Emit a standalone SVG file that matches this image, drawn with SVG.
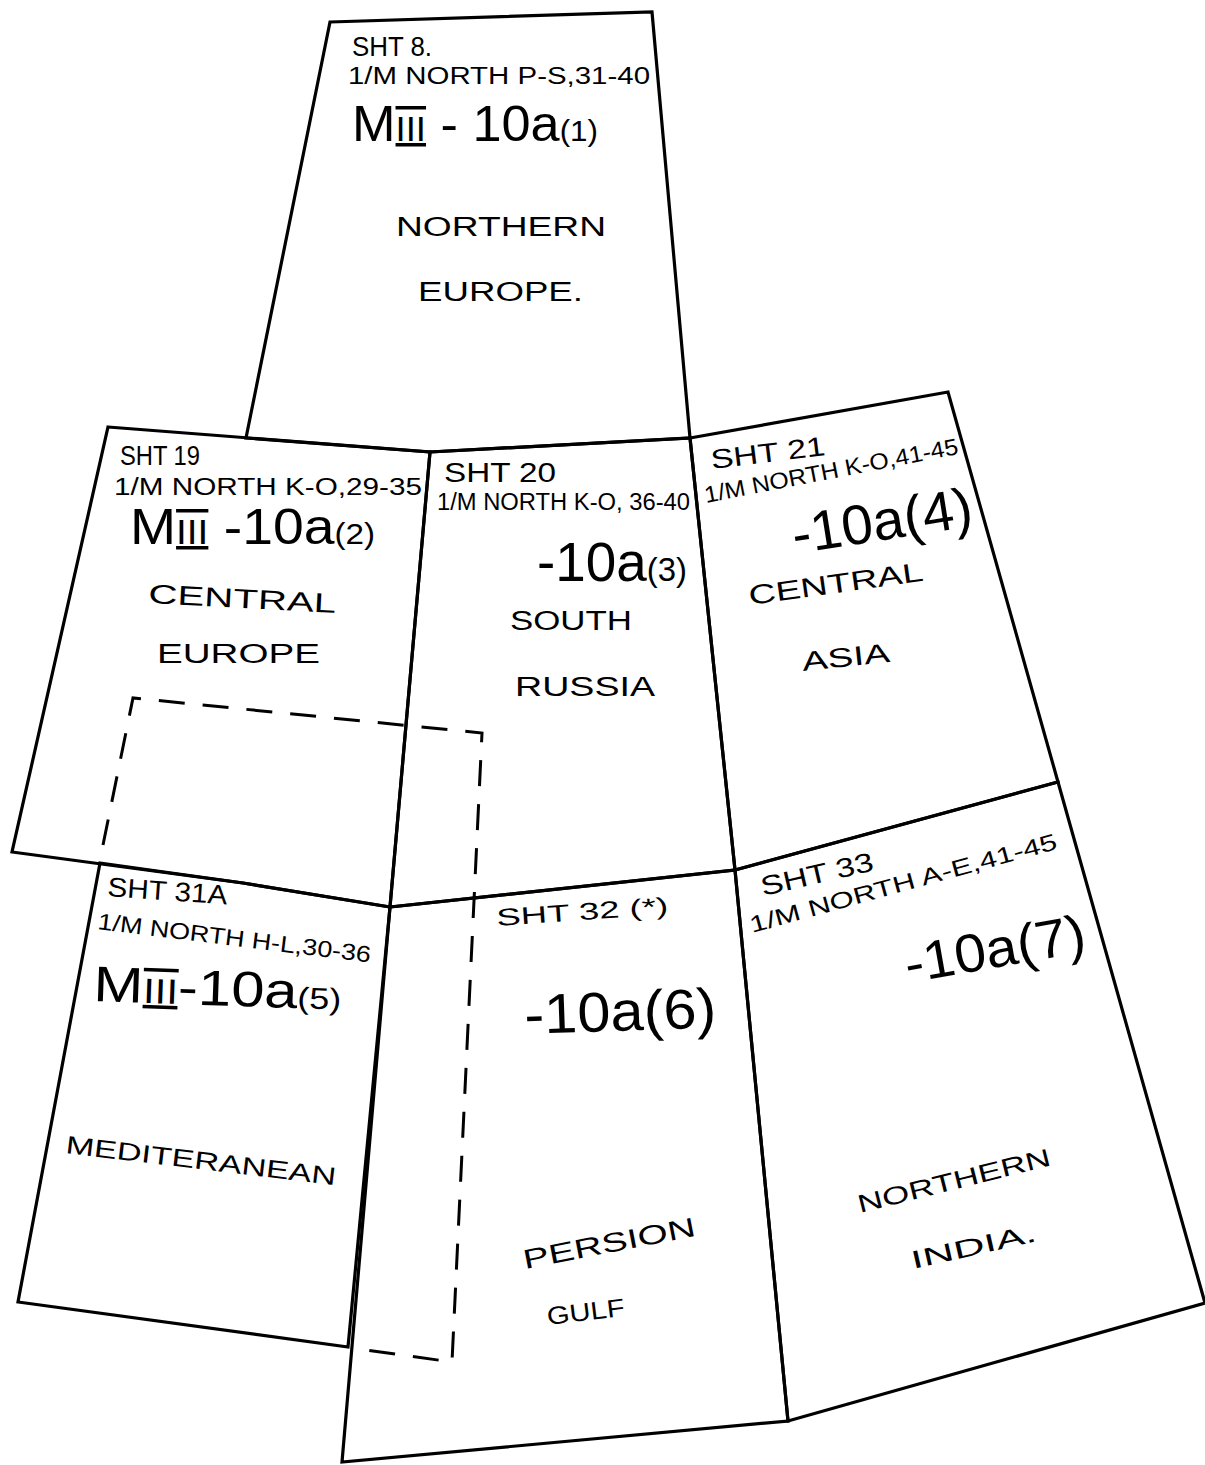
<svg xmlns="http://www.w3.org/2000/svg" width="1205" height="1465" viewBox="0 0 1205 1465">
<style>
.sheet{fill:none;stroke:#000;stroke-width:3.2;stroke-linejoin:miter}
.dash{fill:none;stroke:#000;stroke-width:3;stroke-dasharray:26 18}
text{font-family:"Liberation Sans","DejaVu Sans",sans-serif;fill:#000}
.hd{font-size:27px}
.sub{font-size:23px}
.big{font-size:50px}
.nm{font-size:27px}
.rn{text-decoration:underline overline;font-size:0.7em}
.sm{font-size:0.6em}
</style>
<rect width="1205" height="1465" fill="#fff"/>
<g id="sht8">
<polygon class="sheet" points="330,22 652,12 690,438 430,452 246,438"/>
<text class="hd" x="352" y="56" textLength="80" lengthAdjust="spacingAndGlyphs">SHT 8.</text>
<text class="sub" x="348" y="84" textLength="302" lengthAdjust="spacingAndGlyphs">1/M NORTH P-S,31-40</text>
<text class="big" x="352" y="141" textLength="246" lengthAdjust="spacingAndGlyphs">M<tspan class="rn">III</tspan> - 10a<tspan class="sm">(1)</tspan></text>
<text class="nm" x="396" y="236" textLength="210" lengthAdjust="spacingAndGlyphs">NORTHERN</text>
<text class="nm" x="418" y="301" textLength="165" lengthAdjust="spacingAndGlyphs">EUROPE.</text>
</g>
<g id="sht19">
<polygon class="sheet" points="108,427 430,452 390,907 243,883 12,852"/>
<text class="hd" x="120" y="465" textLength="80" lengthAdjust="spacingAndGlyphs">SHT 19</text>
<text class="sub" x="114" y="495" textLength="308" lengthAdjust="spacingAndGlyphs">1/M NORTH  K-O,29-35</text>
<text class="big" x="130" y="544" textLength="245" lengthAdjust="spacingAndGlyphs">M<tspan class="rn">III</tspan> -10a<tspan class="sm">(2)</tspan></text>
<text class="nm" x="148" y="603" textLength="188" lengthAdjust="spacingAndGlyphs" transform="rotate(3 148 603)">CENTRAL</text>
<text class="nm" x="157" y="663" textLength="163" lengthAdjust="spacingAndGlyphs">EUROPE</text>
</g>
<g id="sht20">
<polygon class="sheet" points="430,452 690,438 735,870 390,907"/>
<text class="hd" x="444" y="482" textLength="112" lengthAdjust="spacingAndGlyphs">SHT 20</text>
<text class="sub" x="437" y="510" textLength="253" lengthAdjust="spacingAndGlyphs">1/M NORTH K-O, 36-40</text>
<text class="big" x="537" y="581" textLength="150" lengthAdjust="spacingAndGlyphs" style="font-size:56px">-10a<tspan class="sm">(3)</tspan></text>
<text class="nm" x="510" y="630" textLength="122" lengthAdjust="spacingAndGlyphs">SOUTH</text>
<text class="nm" x="515" y="696" textLength="140" lengthAdjust="spacingAndGlyphs">RUSSIA</text>
</g>
<g id="sht21">
<polygon class="sheet" points="690,438 948,392 1058,782 735,870"/>
<text class="hd" x="712" y="469" textLength="115" lengthAdjust="spacingAndGlyphs" transform="rotate(-7 712 469)">SHT 21</text>
<text class="sub" x="706" y="503" textLength="258" lengthAdjust="spacingAndGlyphs" transform="rotate(-11 706 503)">1/M NORTH K-O,41-45</text>
<text class="big" x="795" y="554" textLength="182" lengthAdjust="spacingAndGlyphs" style="font-size:56px" transform="rotate(-9 795 554)">-10a(4)</text>
<text class="nm" x="750" y="605" textLength="176" lengthAdjust="spacingAndGlyphs" transform="rotate(-8 750 605)">CENTRAL</text>
<text class="nm" x="803" y="671" textLength="88" lengthAdjust="spacingAndGlyphs" transform="rotate(-6 803 671)">ASIA</text>
</g>
<g id="sht31a">
<polygon class="sheet" points="100,863 243,883 390,907 348,1347 18,1302"/>
<text class="hd" x="107" y="896" textLength="120" lengthAdjust="spacingAndGlyphs" transform="rotate(4 107 896)">SHT 31A</text>
<text class="sub" x="97" y="929" textLength="275" lengthAdjust="spacingAndGlyphs" transform="rotate(7 97 929)">1/M NORTH H-L,30-36</text>
<text class="big" x="93" y="1001" textLength="248" lengthAdjust="spacingAndGlyphs" transform="rotate(2 93 1001)">M<tspan class="rn">III</tspan>-10a<tspan class="sm">(5)</tspan></text>
<text class="nm" x="65" y="1153" textLength="272" lengthAdjust="spacingAndGlyphs" style="font-size:25px" transform="rotate(6.8 65 1153)">MEDITERANEAN</text>
</g>
<g id="sht32">
<polygon class="sheet" points="390,907 735,870 788,1421 342,1462"/>
<text class="hd" x="497" y="926" textLength="172" lengthAdjust="spacingAndGlyphs" style="font-size:24px" transform="rotate(-4 497 926)">SHT 32 (*)</text>
<text class="big" x="525" y="1034" textLength="192" lengthAdjust="spacingAndGlyphs" style="font-size:56px" transform="rotate(-2 525 1034)">-10a(6)</text>
<text class="nm" x="525" y="1269" textLength="175" lengthAdjust="spacingAndGlyphs" transform="rotate(-11 525 1269)">PERSION</text>
<text class="nm" x="548" y="1325" textLength="78" lengthAdjust="spacingAndGlyphs" style="font-size:25px" transform="rotate(-7 548 1325)">GULF</text>
</g>
<g id="sht33">
<polygon class="sheet" points="735,870 1058,782 1205,1303 788,1421"/>
<text class="hd" x="763" y="896" textLength="115" lengthAdjust="spacingAndGlyphs" transform="rotate(-13 763 896)">SHT 33</text>
<text class="sub" x="752" y="933" textLength="318" lengthAdjust="spacingAndGlyphs" transform="rotate(-15.4 752 933)">1/M NORTH  A-E,41-45</text>
<text class="big" x="908" y="983" textLength="183" lengthAdjust="spacingAndGlyphs" style="font-size:54px" transform="rotate(-10 908 983)">-10a(7)</text>
<text class="nm" x="860" y="1213" textLength="198" lengthAdjust="spacingAndGlyphs" style="font-size:25px" transform="rotate(-14 860 1213)">NORTHERN</text>
<text class="nm" x="913" y="1269" textLength="128" lengthAdjust="spacingAndGlyphs" style="font-size:25px" transform="rotate(-12.7 913 1269)">INDIA.</text>
</g>
<g id="connectors">
<polyline class="dash" points="103,845 133,698 482,733 452,1362 352,1348"/>
</g>
</svg>
